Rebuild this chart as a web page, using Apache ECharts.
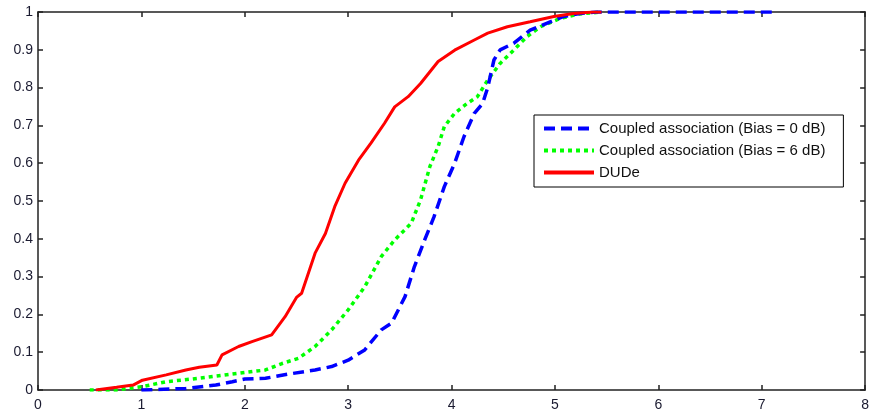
<!DOCTYPE html>
<html>
<head>
<meta charset="utf-8">
<script src="https://cdn.jsdelivr.net/npm/echarts@6/dist/echarts.min.js"></script>
<style>
  html, body { margin: 0; padding: 0; background: #fff; }
  #chart { width: 872px; height: 415px; }
</style>
</head>
<body>
<div id="chart"></div>
<script>
// 圖例名稱
const seriesNames = ['Coupled association (Bias = 0 dB)', 'Coupled association (Bias = 6 dB)', 'DUDe'];

// Bias = 0 dB (藍色虛線)
const bias0X = [1.0, 1.43, 1.72, 1.88, 2.0, 2.2, 2.42, 2.68, 2.84, 3.0, 3.16, 3.32, 3.42, 3.55, 3.64, 3.74, 3.83, 3.93, 4.03, 4.12, 4.22, 4.30, 4.35, 4.41, 4.47, 4.6, 4.76, 4.92, 5.08, 5.24, 5.4, 7.13];
const bias0Y = [0, 0.004, 0.013, 0.022, 0.029, 0.031, 0.042, 0.053, 0.062, 0.079, 0.106, 0.159, 0.177, 0.247, 0.326, 0.397, 0.458, 0.538, 0.6, 0.67, 0.732, 0.758, 0.80, 0.873, 0.90, 0.917, 0.952, 0.97, 0.988, 0.996, 1.0, 1.0];

// Bias = 6 dB (綠色點線)
const bias6X = [0.5, 0.76, 1.01, 1.24, 1.56, 1.88, 2.2, 2.36, 2.52, 2.68, 2.84, 3.0, 3.16, 3.32, 3.45, 3.61, 3.70, 3.79, 3.87, 3.93, 4.03, 4.15, 4.25, 4.35, 4.47, 4.6, 4.73, 4.86, 5.05, 5.24, 5.45];
const bias6Y = [0, 0, 0.009, 0.022, 0.031, 0.042, 0.053, 0.07, 0.084, 0.115, 0.159, 0.212, 0.273, 0.353, 0.397, 0.441, 0.503, 0.591, 0.644, 0.697, 0.732, 0.758, 0.776, 0.82, 0.864, 0.899, 0.935, 0.961, 0.983, 0.995, 1.0];

// DUDe (紅色實線)
const dudeX = [0.56, 0.76, 0.92, 1.01, 1.24, 1.43, 1.56, 1.73, 1.78, 1.94, 2.07, 2.26, 2.39, 2.5, 2.55, 2.68, 2.78, 2.87, 2.97, 3.10, 3.22, 3.35, 3.45, 3.58, 3.70, 3.87, 4.03, 4.22, 4.35, 4.54, 4.76, 4.99, 5.18, 5.37, 5.45];
const dudeY = [0, 0.007, 0.013, 0.026, 0.04, 0.053, 0.06, 0.066, 0.093, 0.115, 0.128, 0.146, 0.194, 0.245, 0.256, 0.362, 0.414, 0.485, 0.547, 0.608, 0.653, 0.705, 0.749, 0.776, 0.811, 0.869, 0.899, 0.926, 0.944, 0.961, 0.974, 0.988, 0.996, 1.0, 1.0];

const zip = (xs, ys) => xs.map((x, i) => [x, ys[i]]);

const chart = echarts.init(document.getElementById('chart'));

const labelStyle = { color: '#1a1a30', fontSize: 14, fontFamily: 'Arial, Liberation Sans, sans-serif' };
const axisLine = { show: true, onZero: false, lineStyle: { color: '#222', width: 1.5 } };
const axisTick = { show: true, inside: true, length: 5, lineStyle: { color: '#222', width: 1.5 } };

const options = {
    animation: false,
    backgroundColor: '#fff',
    grid: { left: 38, right: 2, top: 12, bottom: 25 },
    legend: {
        orient: 'vertical',
        left: 534,
        top: 115,
        padding: [6, 18, 7, 8],
        itemGap: 7,
        itemWidth: 50,
        itemHeight: 15,
        backgroundColor: '#fff',
        borderColor: '#000',
        borderWidth: 1,
        itemStyle: { opacity: 0 },
        lineStyle: { width: 4 },
        textStyle: { color: '#111', fontSize: 15, fontFamily: 'Arial, Liberation Sans, sans-serif' },
        data: seriesNames
    },
    xAxis: [
        {
            type: 'value', min: 0, max: 8, interval: 1,
            axisLine, axisTick,
            splitLine: { show: false },
            axisLabel: { ...labelStyle, margin: 8 }
        },
        {
            type: 'value', position: 'top', min: 0, max: 8, interval: 1,
            axisLine, axisTick,
            splitLine: { show: false },
            axisLabel: { show: false }
        }
    ],
    yAxis: [
        {
            type: 'value', min: 0, max: 1, interval: 0.1,
            axisLine, axisTick,
            splitLine: { show: false },
            axisLabel: { ...labelStyle, margin: 5 }
        },
        {
            type: 'value', position: 'right', min: 0, max: 1, interval: 0.1,
            axisLine, axisTick,
            splitLine: { show: false },
            axisLabel: { show: false }
        }
    ],
    series: [
        {
            name: seriesNames[0],
            type: 'line',
            symbol: 'none',
            color: '#0000ff',
            lineStyle: { color: '#0000ff', width: 3.5, type: [11, 6] },
            data: zip(bias0X, bias0Y),
            z: 3
        },
        {
            name: seriesNames[1],
            type: 'line',
            symbol: 'none',
            color: '#00ff00',
            lineStyle: { color: '#00ff00', width: 3.5, type: [4, 4] },
            data: zip(bias6X, bias6Y),
            z: 2
        },
        {
            name: seriesNames[2],
            type: 'line',
            symbol: 'none',
            color: '#ff0000',
            lineStyle: { color: '#ff0000', width: 3 },
            data: zip(dudeX, dudeY),
            z: 4
        }
    ]
};

chart.setOption(options);
</script>
</body>
</html>
